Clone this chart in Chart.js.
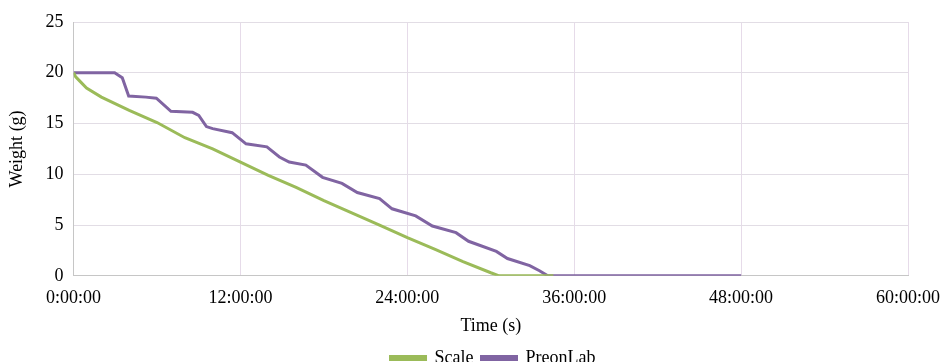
<!DOCTYPE html>
<html>
<head>
<meta charset="utf-8">
<script src="https://cdn.jsdelivr.net/npm/chart.js@4/dist/chart.umd.min.js"></script>
<style>
  html, body { margin: 0; padding: 0; background: #fff; }
  #wrap { width: 943px; height: 362px; position: relative; }
</style>
</head>
<body>
<div id="wrap"><canvas id="weightChart"></canvas></div>
<script>
// time in hours (axis labels show h:00:00), weight in grams
const scaleTime = [0, 0.15, 0.43, 0.93, 2, 4, 6, 8, 10, 12, 14, 16, 18, 20, 22, 24, 26, 28, 30, 30.6, 34.5];
const scaleWeight = [20, 19.6, 19.2, 18.5, 17.6, 16.3, 15.1, 13.6, 12.5, 11.2, 9.9, 8.7, 7.4, 6.2, 5.0, 3.75, 2.6, 1.4, 0.3, 0, 0];

const preonTime = [0, 2.95, 3.5, 3.96, 5.2, 5.95, 7.0, 8.56, 9.0, 9.55, 10, 11.4, 12.4, 13.9, 14.8, 15.5, 16.7, 17.9, 19.3, 20.4, 22, 22.9, 24.6, 25.8, 27.5, 28.4, 30.4, 31.2, 32.8, 33.5, 34.1, 48];
const preonWeight = [20, 20, 19.5, 17.7, 17.6, 17.5, 16.2, 16.1, 15.8, 14.7, 14.5, 14.1, 13.0, 12.7, 11.7, 11.2, 10.9, 9.7, 9.1, 8.2, 7.6, 6.6, 5.9, 4.9, 4.25, 3.4, 2.4, 1.7, 1.0, 0.5, 0, 0];

const xTicks = [0, 12, 24, 36, 48, 60];
const yTicks = [0, 5, 10, 15, 20, 25];

const serif = "'Liberation Serif', 'Times New Roman', serif";
const green = "#9bbb59";
const purple = "#8064a2";

const toPoints = (xs, ys) => xs.map((x, i) => ({ x, y: ys[i] }));

// the reference legend is centred a bit right of the plot, nudge it over
const legendShift = {
  id: "legendShift",
  afterLayout(chart) {
    const l = chart.legend;
    if (!l) return;
    l.left += 36;
    l.right += 36;
    l.top += 2;
    l.bottom += 2;
  },
};

const chart = new Chart(document.getElementById("weightChart"), {
  type: "line",
  data: {
    datasets: [
      {
        label: "Scale",
        data: toPoints(scaleTime, scaleWeight),
        borderColor: green,
        backgroundColor: green,
        borderWidth: 3,
        pointRadius: 0,
        fill: false,
        tension: 0,
      },
      {
        label: "PreonLab",
        data: toPoints(preonTime, preonWeight),
        borderColor: purple,
        backgroundColor: purple,
        borderWidth: 3,
        pointRadius: 0,
        fill: false,
        tension: 0,
      },
    ],
  },
  plugins: [legendShift],
  options: {
    responsive: true,
    maintainAspectRatio: false,
    animation: false,
    // bottom is negative so the legend sits as low as in the reference
    layout: { padding: { left: 6, right: 35, top: 22, bottom: -13 } },
    plugins: {
      legend: {
        position: "bottom",
        labels: {
          boxWidth: 35,
          boxHeight: 3,
          padding: 8,
          color: "#000",
          font: { family: serif, size: 18 },
        },
      },
      tooltip: { enabled: false },
    },
    scales: {
      x: {
        type: "linear",
        min: 0,
        max: 60,
        afterBuildTicks: (axis) => { axis.ticks = xTicks.map((v) => ({ value: v })); },
        afterFit: (axis) => { axis.paddingLeft = 0; axis.paddingRight = 0; },
        ticks: {
          color: "#000",
          font: { family: serif, size: 18 },
          maxRotation: 0,
          padding: 12,
          callback: (v) => v + ":00:00",
        },
        grid: { color: "#e6dbe9", drawTicks: false },
        border: { color: "#c6c6c6", width: 1 },
        title: {
          display: true,
          text: "Time (s)",
          color: "#000",
          font: { family: serif, size: 18 },
          padding: { top: -6, bottom: 2 },
        },
      },
      y: {
        min: 0,
        max: 25,
        afterBuildTicks: (axis) => { axis.ticks = yTicks.map((v) => ({ value: v })); },
        afterFit: (axis) => { axis.paddingTop = 0; },
        ticks: {
          color: "#000",
          font: { family: serif, size: 18 },
          padding: 10,
        },
        grid: { color: "#e2dde5", drawTicks: false },
        border: { color: "#c6c6c6", width: 1 },
        title: {
          display: true,
          text: "Weight (g)",
          color: "#000",
          font: { family: serif, size: 18 },
          padding: { top: 0, bottom: 8 },
        },
      },
    },
  },
});
</script>
</body>
</html>
